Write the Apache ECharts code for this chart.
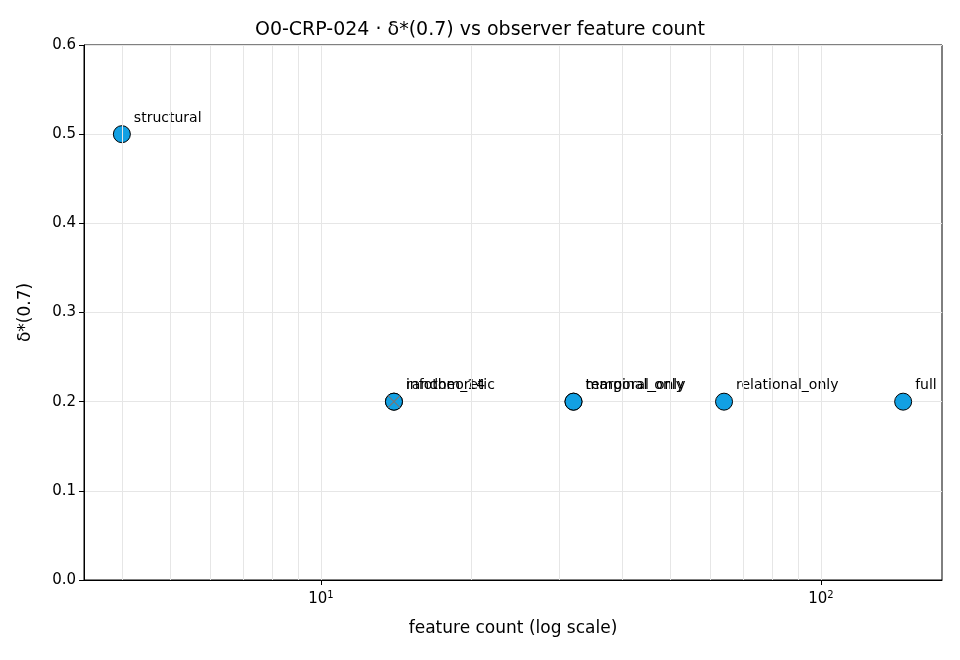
<!DOCTYPE html>
<html><head><meta charset="utf-8">
<script src="https://cdn.jsdelivr.net/npm/echarts@6/dist/echarts.min.js"></script>
</head><body style="margin:0">
<div id="c" style="width:960px;height:660px"></div>
<script>
const names = ['structural','infotheoretic','random_14','temporal_only','marginal_only','relational_only','full'];
const featureCounts = [4,14,14,32,32,64,146];
const deltaValues = [0.5,0.2,0.2,0.2,0.2,0.2,0.2];
const yTicks = [0,0.1,0.2,0.3,0.4,0.5,0.6];
const minorX = [4,5,6,7,8,9,20,30,40,50,60,70,80,90];
const majorX = [10,100];

const chart = echarts.init(document.getElementById('c'));
const pts = names.map((n,i)=>({value:[featureCounts[i],deltaValues[i]],name:n}));
const gridLines = [...minorX, ...majorX].map(v=>({xAxis:v}));
chart.setOption({
  animation:false,
  title:{text:'O0-CRP-024 · δ*(0.7) vs observer feature count',left:'center',top:16,
    textStyle:{fontFamily:'DejaVu Sans',fontSize:19,fontWeight:'normal',color:'#000'}},
  grid:{left:84,right:18,top:45,bottom:80,show:true,borderColor:'#000',borderWidth:1,backgroundColor:'transparent'},
  xAxis:{type:'log',min:3.36,max:174.6,logBase:10,name:'feature count (log scale)',nameLocation:'middle',nameGap:40,
    nameTextStyle:{fontFamily:'DejaVu Sans',fontSize:17,color:'#000'},
    axisLine:{lineStyle:{color:'#000'}},axisTick:{show:true,lineStyle:{color:'#000'}},
    splitLine:{show:false},
    axisLabel:{fontFamily:'DejaVu Sans',fontSize:15,color:'#000',showMinLabel:false,showMaxLabel:false,margin:10,
      formatter:v=>{const l=Math.log10(v);return Math.abs(l-Math.round(l))<1e-6?'10{s|'+Math.round(l)+'}':'';},
      rich:{s:{fontSize:10,verticalAlign:'top',padding:[0,0,8,0],fontFamily:'DejaVu Sans',color:'#000'}}}},
  yAxis:{type:'value',min:0,max:0.6,interval:0.1,name:'δ*(0.7)',nameLocation:'middle',nameGap:50,
    nameTextStyle:{fontFamily:'DejaVu Sans',fontSize:17,color:'#000'},
    axisLine:{show:true,lineStyle:{color:'#000'}},axisTick:{show:true,lineStyle:{color:'#000'}},
    axisLabel:{fontFamily:'DejaVu Sans',fontSize:15,color:'#000',formatter:v=>v.toFixed(1)},
    splitLine:{lineStyle:{color:'#e6e6e6'}}},
  series:[
    {type:'scatter',data:[],markLine:{silent:true,symbol:'none',label:{show:false},
      lineStyle:{color:'#e6e6e6',type:'solid',width:1},data:gridLines}},
    {type:'scatter',data:pts,symbolSize:17,z:3,
      itemStyle:{color:'#12a0e3',borderColor:'#000',borderWidth:1,opacity:1},
      label:{show:true,position:'right',formatter:p=>p.name,offset:[-2,-16],
        fontFamily:'DejaVu Sans',fontSize:14,color:'#000'}},
    {type:'scatter',data:[[featureCounts[2],deltaValues[2]]],symbol:'path://M0,0L10,10M10,0L0,10',symbolSize:12,z:5,
      itemStyle:{color:'#777',borderColor:'#777',borderWidth:1.2,opacity:1}}
  ]
});
</script></body></html>
